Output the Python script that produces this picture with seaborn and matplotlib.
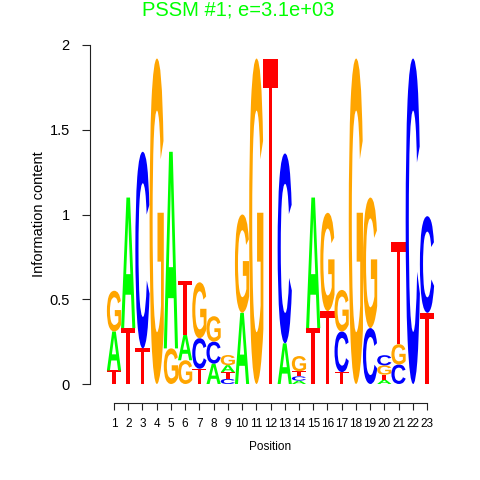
import numpy as np
import matplotlib
matplotlib.use("Agg")
import matplotlib.pyplot as plt
import seaborn as sns
from matplotlib.textpath import TextPath
from matplotlib.patches import PathPatch, Polygon
from matplotlib.font_manager import FontProperties
from matplotlib.transforms import Affine2D

positions = list(range(1, 24))
height_A = [0.23, 0.77, 0, 0, 1.16, 0.15, 0, 0.12, 0.041, 0.42, 0, 0, 0.24, 0.02, 0.77, 0, 0, 0, 0, 0.025, 0, 0, 0]
height_C = [0, 0, 1.16, 0, 0, 0, 0.18, 0.13, 0.03, 0, 0, 0, 1.12, 0.025, 0, 0, 0.24, 0, 0.33, 0.06, 0.115, 1.92, 0.57]
height_G = [0.24, 0, 0, 1.92, 0.21, 0.14, 0.33, 0.15, 0.06, 0.58, 1.92, 0, 0, 0.09, 0, 0.58, 0.245, 1.92, 0.77, 0.055, 0.12, 0, 0]
height_T = [0.08, 0.33, 0.21, 0, 0, 0.32, 0.09, 0, 0.04, 0, 0, 1.92, 0, 0.03, 0.33, 0.43, 0.07, 0, 0, 0.03, 0.6, 0, 0.42]

yticks = [0, 0.5, 1, 1.5, 2]
ytick_labels = ["0", "0.5", "1", "1.5", "2"]
title = "PSSM #1; e=3.1e+03"

colors = {"A": "#00FF00", "C": "#0000FF", "G": "#FFA500", "T": "#FF0000"}
heights = {"A": height_A, "C": height_C, "G": height_G, "T": height_T}

sns.set_style("ticks")
plt.rcParams["font.family"] = ["Liberation Sans", "DejaVu Sans"]

letter_font = FontProperties(family="Liberation Sans", weight="bold")


def draw_letter(ax, letter, x, y0, h, w=1.0):
    if letter == "T":
        # thin-barred T like the reference logo
        bar = 0.09 * h
        stem = 0.13 * w
        pts = [(x - w / 2, y0 + h), (x + w / 2, y0 + h), (x + w / 2, y0 + h - bar),
               (x + stem, y0 + h - bar), (x + stem, y0), (x - stem, y0),
               (x - stem, y0 + h - bar), (x - w / 2, y0 + h - bar)]
        ax.add_patch(Polygon(pts, closed=True, fc=colors[letter], lw=0))
        return
    tp = TextPath((0, 0), letter, size=1, prop=letter_font)
    bb = tp.get_extents()
    t = (Affine2D().translate(-bb.x0, -bb.y0)
         .scale(w / bb.width, h / bb.height)
         .translate(x - w / 2, y0))
    ax.add_patch(PathPatch(t.transform_path(tp), fc=colors[letter], lw=0))


fig = plt.figure(figsize=(4.8, 4.8), dpi=100)
ax = fig.add_axes([90 / 480, 96 / 480, 361 / 480, 339 / 480])

for i, pos in enumerate(positions):
    # smallest letter at the bottom of each stack
    stack = sorted(["A", "C", "G", "T"], key=lambda b: heights[b][i])
    y0 = 0.0
    for b in stack:
        h = heights[b][i]
        if h <= 0:
            continue
        draw_letter(ax, b, pos, y0, h)
        y0 += h

ax.set_xlim(-0.687, 24.687)
ax.set_ylim(0, 2)
sns.despine(ax=ax)
ax.spines["bottom"].set_position(("outward", 13.5))
ax.spines["bottom"].set_bounds(1, 23)
ax.spines["left"].set_bounds(0, 2)
for s in ["bottom", "left"]:
    ax.spines[s].set_color("#222222")
    ax.spines[s].set_linewidth(0.8)

ax.set_xticks(positions)
ax.set_xticklabels([str(p) for p in positions])
ax.set_yticks(yticks)
ax.set_yticklabels(ytick_labels)
ax.tick_params(axis="x", length=4.8, width=0.8, pad=6.5, labelsize=8.5, colors="#222222", labelcolor="black")
ax.tick_params(axis="y", length=6, width=0.8, pad=8.5, labelsize=10.5, colors="#222222", labelcolor="black")

ax.set_xlabel("Position", fontsize=8.5, labelpad=7.6, color="black")
ax.set_ylabel("Information content", fontsize=10.5, color="black")
ax.yaxis.set_label_coords(-0.122, 0.5)

fig.text(238 / 480, 1 - 16 / 480, title, ha="center", va="baseline",
         color="#00FF00", fontsize=14.5)

fig.savefig("out.png", dpi=100, facecolor="white")
